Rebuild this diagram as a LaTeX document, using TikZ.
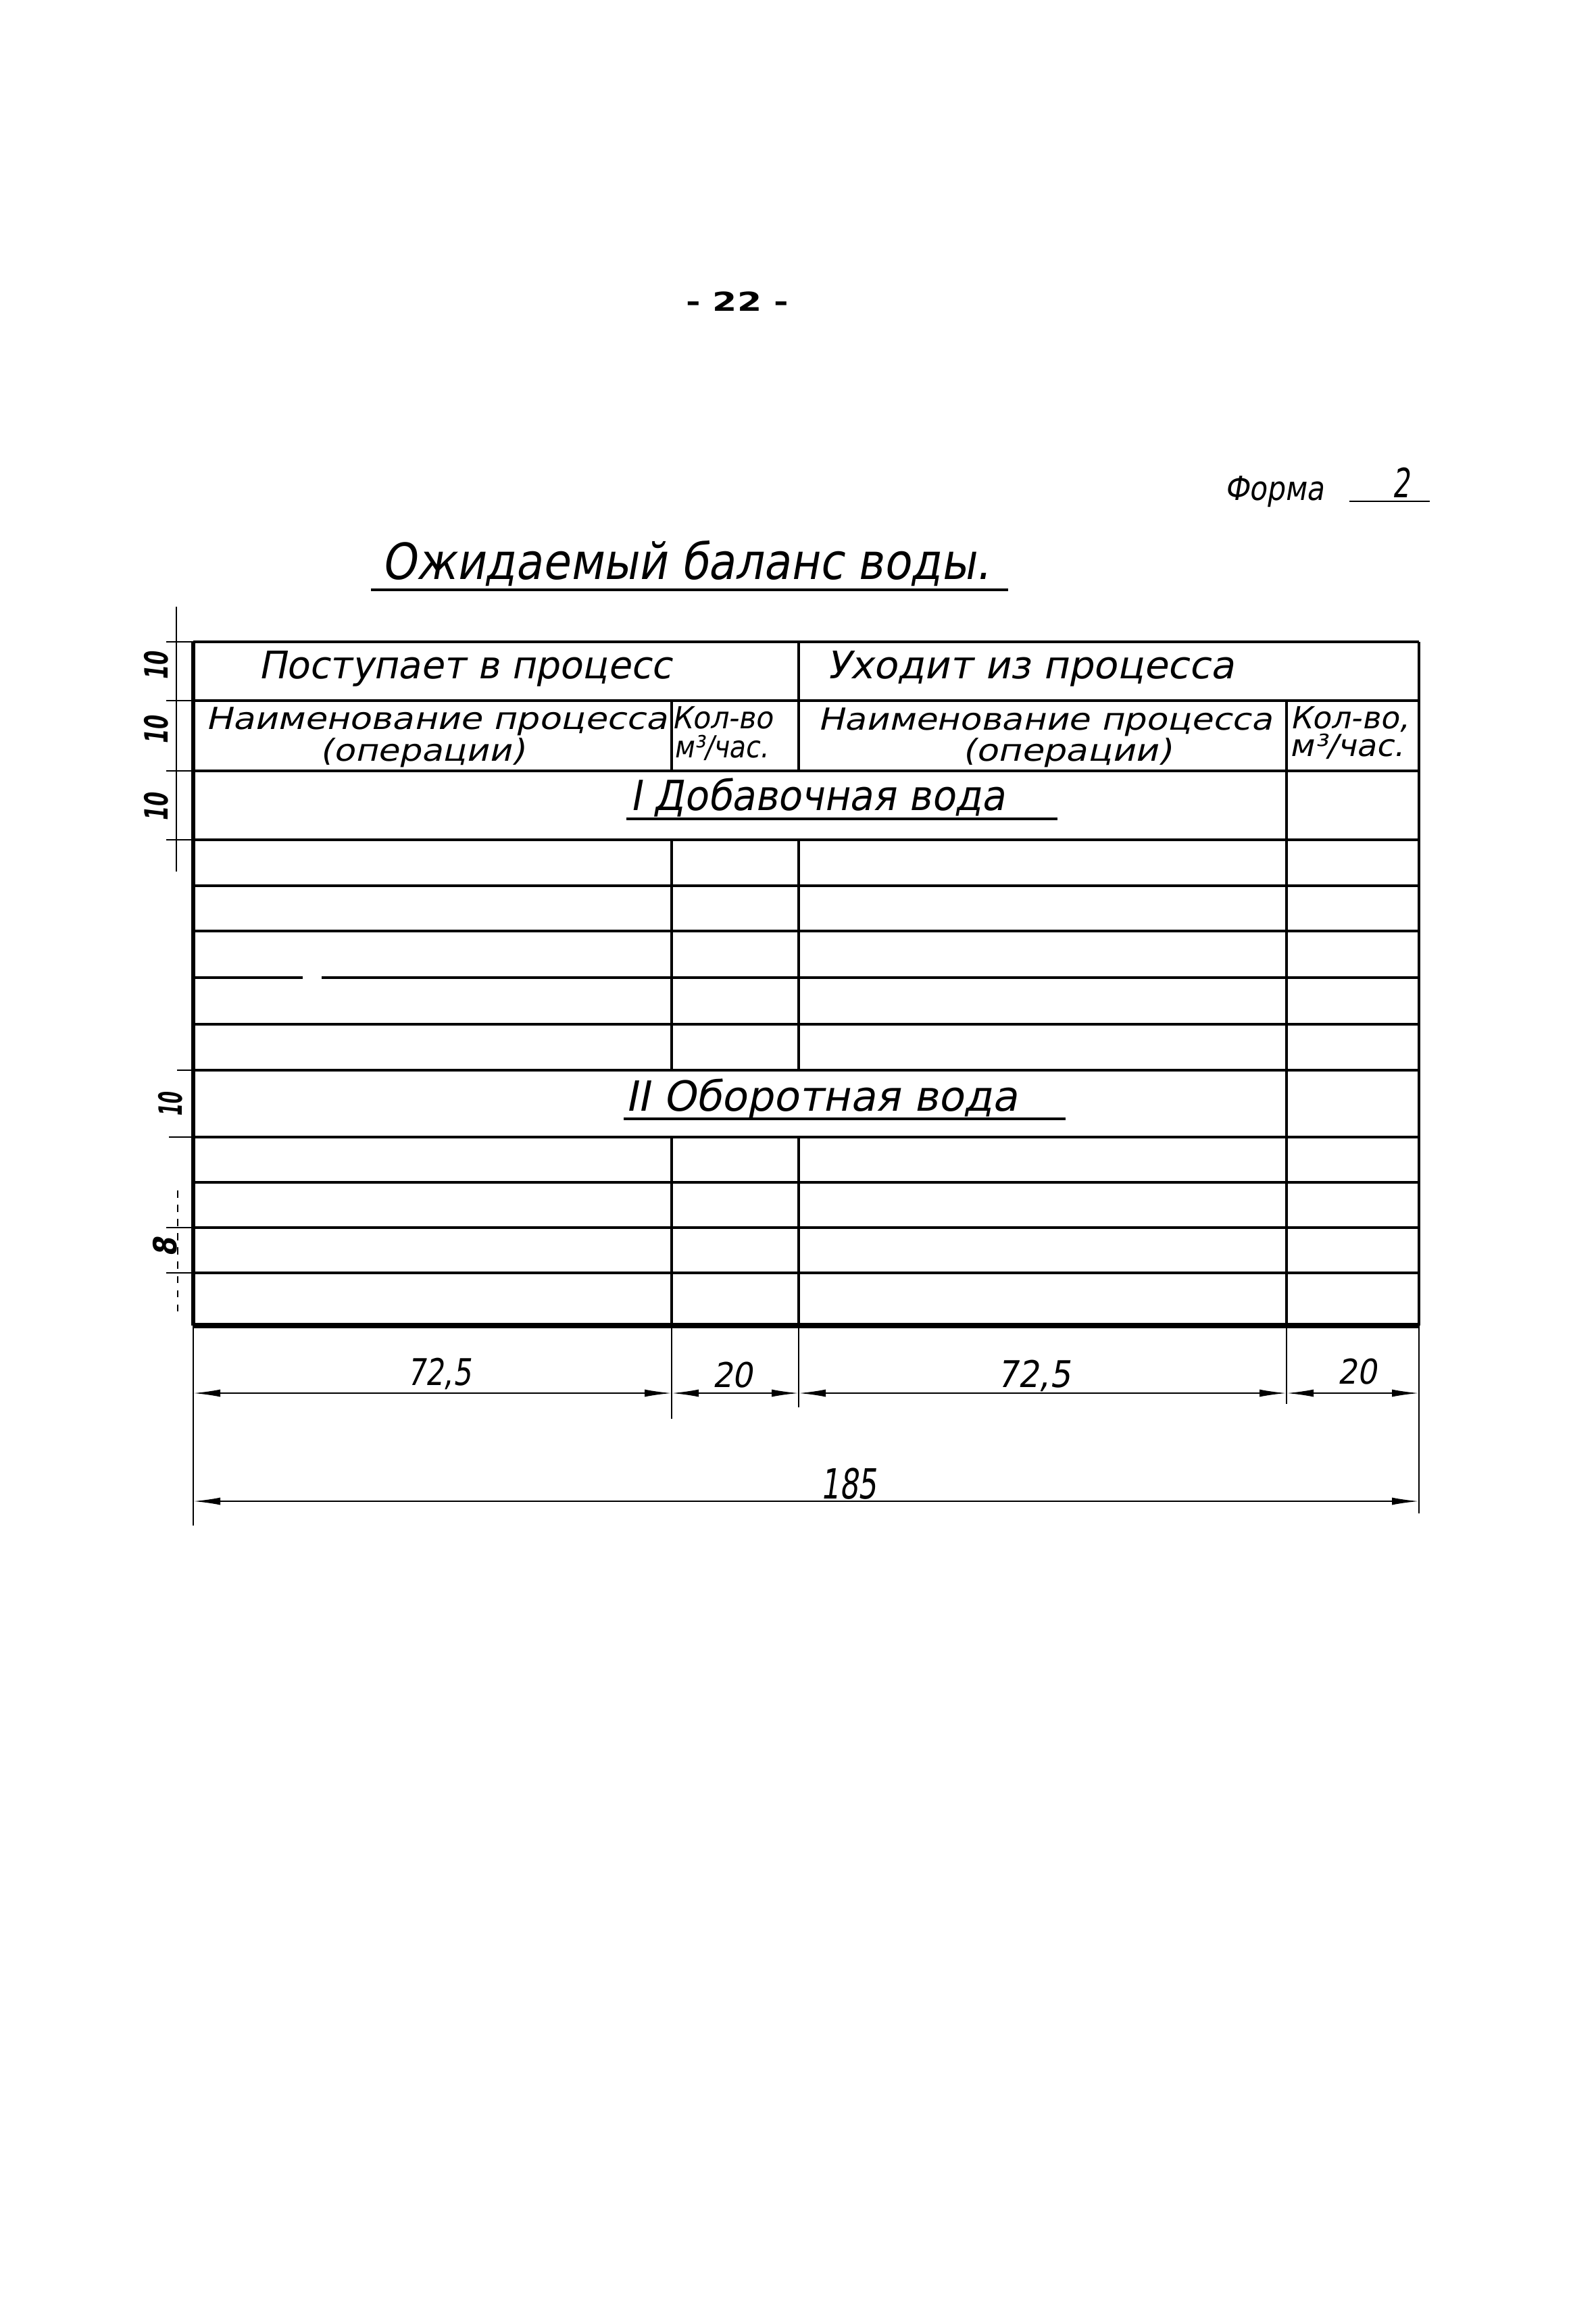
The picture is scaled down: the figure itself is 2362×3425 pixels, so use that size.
\documentclass[tikz,border=0pt]{standalone}
\usepackage{fontspec}
\usepackage{graphicx}
\usetikzlibrary{arrows.meta}
\newfontfamily\handfont[FakeSlant=0.2]{DejaVu Sans}
\newfontfamily\printfont{DejaVu Sans}
\newcommand{\handtext}[3]{\resizebox{#1mm}{\height}{\fontsize{#2pt}{#2pt}\selectfont\handfont #3}}
\begin{document}
\begin{tikzpicture}[x=0.1mm,y=-0.1mm,
  txt/.style={inner sep=0pt, anchor=base},
  rottxt/.style={inner sep=0pt, anchor=center, rotate=90},
  grid/.style={line width=1.2pt},
  border/.style={line width=1.5pt},
  heavy/.style={line width=2.4pt},
  fine/.style={line width=0.5pt},
  dimline/.style={line width=0.6pt, {Latex[length=4mm,width=1.1mm]}-{Latex[length=4mm,width=1.1mm]}},
  uline/.style={line width=1.2pt}]
\fill[white] (0,0) rectangle (2362,3425);
\useasboundingbox (0,0) rectangle (2362,3425);

% page number, form, title
\node[txt] (pg) at (1091,460) {\resizebox{15.2mm}{\height}{\fontsize{11pt}{11pt}\selectfont\printfont\bfseries - 22 -}};
\node[txt] (forma) at (1886,740) {\handtext{14.7}{14}{Форма}};
\node[txt] (formano) at (2073,736) {\handtext{2.6}{17}{2}};
\draw[line width=0.8pt] (1997,742) -- (2116,742);
\node[txt] (title) at (1015,857) {\handtext{90}{21}{Ожидаемый баланс воды.}};
\draw[uline] (549,873) -- (1492,873);

% table horizontal lines
\foreach \yy in {950,1037,1141,1243,1311,1378,1516,1584,1683,1750,1817,1884}
  \draw[grid] (286,\yy) -- (2100,\yy);
\draw[grid] (286,1447) -- (448,1447);
\draw[grid] (476,1447) -- (2100,1447);
\draw[heavy] (286,1962) -- (2100,1962);

% table vertical lines
\draw[border] (286,950) -- (286,1962);
\draw[grid] (2100,950) -- (2100,1962);
\draw[grid] (1182,950) -- (1182,1141);
\draw[grid] (1182,1243) -- (1182,1584);
\draw[grid] (1182,1683) -- (1182,1962);
\draw[grid] (994,1037) -- (994,1141);
\draw[grid] (994,1243) -- (994,1584);
\draw[grid] (994,1683) -- (994,1962);
\draw[grid] (1904,1037) -- (1904,1962);

% header texts
\node[txt] (inhead) at (688,1004) {\handtext{61.2}{16}{Поступает в процесс}};
\node[txt] (outhead) at (1525,1004) {\handtext{60.3}{16}{Уходит из процесса}};
\node[txt] (inname) at (646,1079) {\handtext{68.3}{12.8}{Наименование процесса}};
\node[txt] (inop) at (625,1126) {\handtext{30.3}{12.8}{(операции)}};
\node[txt] (inqty) at (1069,1078) {\handtext{15.0}{12.8}{Кол-во}};
\node[txt] (inunit) at (1067,1121) {\handtext{14.0}{12.8}{м³/час.}};
\node[txt] (outname) at (1547,1080) {\handtext{67.2}{12.8}{Наименование процесса}};
\node[txt] (outop) at (1579,1126) {\handtext{31.0}{12.8}{(операции)}};
\node[txt] (outqty) at (1997,1078) {\handtext{17.5}{12.8}{Кол-во,}};
\node[txt] (outunit) at (1993,1119) {\handtext{16.9}{12.8}{м³/час.}};

% section titles
\node[txt] (secone) at (1210,1199) {\handtext{55.5}{17.5}{I Добавочная вода}};
\draw[uline] (927,1212) -- (1565,1212);
\node[txt] (sectwo) at (1216,1644) {\handtext{58.1}{17.5}{II Оборотная вода}};
\draw[uline] (923,1656) -- (1577,1656);

% left dimensions
\draw[fine] (261,898) -- (261,1290);
\foreach \yy in {950,1037,1141,1243}
  \draw[fine] (246,\yy) -- (286,\yy);
\node[rottxt] (dA) at (231,986) {\handtext{4.2}{13.5}{\bfseries 10}};
\node[rottxt] (dB) at (231,1081) {\handtext{4.2}{13.5}{\bfseries 10}};
\node[rottxt] (dC) at (231,1195) {\handtext{4.2}{13.5}{\bfseries 10}};
\draw[fine] (262,1584) -- (286,1584);
\draw[fine] (250,1683) -- (286,1683);
\node[rottxt] (dD) at (252,1635) {\handtext{3.6}{13.5}{\bfseries 10}};
\draw[fine] (246,1817) -- (286,1817);
\draw[fine] (246,1884) -- (286,1884);
\draw[fine,dashed] (263,1762) -- (263,1946);
\node[rottxt] (dE) at (244,1846) {\handtext{2.8}{13.5}{\bfseries 8}};

% extension lines
\coordinate (e0t) at (286,1962); \coordinate (e0b) at (286,2258);
\coordinate (e1t) at (994,1962); \coordinate (e1b) at (994,2100);
\coordinate (e2t) at (1182,1962); \coordinate (e2b) at (1182,2083);
\coordinate (e3t) at (1904,1962); \coordinate (e3b) at (1904,2078);
\coordinate (e4t) at (2100,1962); \coordinate (e4b) at (2100,2240);
\draw[fine] (e0t) -- (e0b);
\draw[fine] (e1t) -- (e1b);
\draw[fine] (e2t) -- (e2b);
\draw[fine] (e3t) -- (e3b);
\draw[fine] (e4t) -- (e4b);

% dimension lines
\coordinate (a0) at (286,2062); \coordinate (a1) at (994,2062);
\coordinate (a2) at (1182,2062); \coordinate (a3) at (1904,2062);
\coordinate (a4) at (2100,2062);
\draw[dimline] (a0) -- (a1);
\draw[dimline] (a1) -- (a2);
\draw[dimline] (a2) -- (a3);
\draw[dimline] (a3) -- (a4);
\coordinate (b0) at (286,2222); \coordinate (b4) at (2100,2222);
\draw[dimline] (b0) -- (b4);

\node[txt] (wA) at (650,2050) {\handtext{9.5}{15.5}{72,5}};
\node[txt] (wB) at (1084,2053) {\handtext{6.0}{14.4}{20}};
\node[txt] (wC) at (1530,2053) {\handtext{10.9}{15.5}{72,5}};
\node[txt] (wD) at (2008,2048) {\handtext{5.8}{14.4}{20}};
\node[txt] (wT) at (1256,2218) {\handtext{8.3}{17.5}{185}};
\end{tikzpicture}
\end{document}
